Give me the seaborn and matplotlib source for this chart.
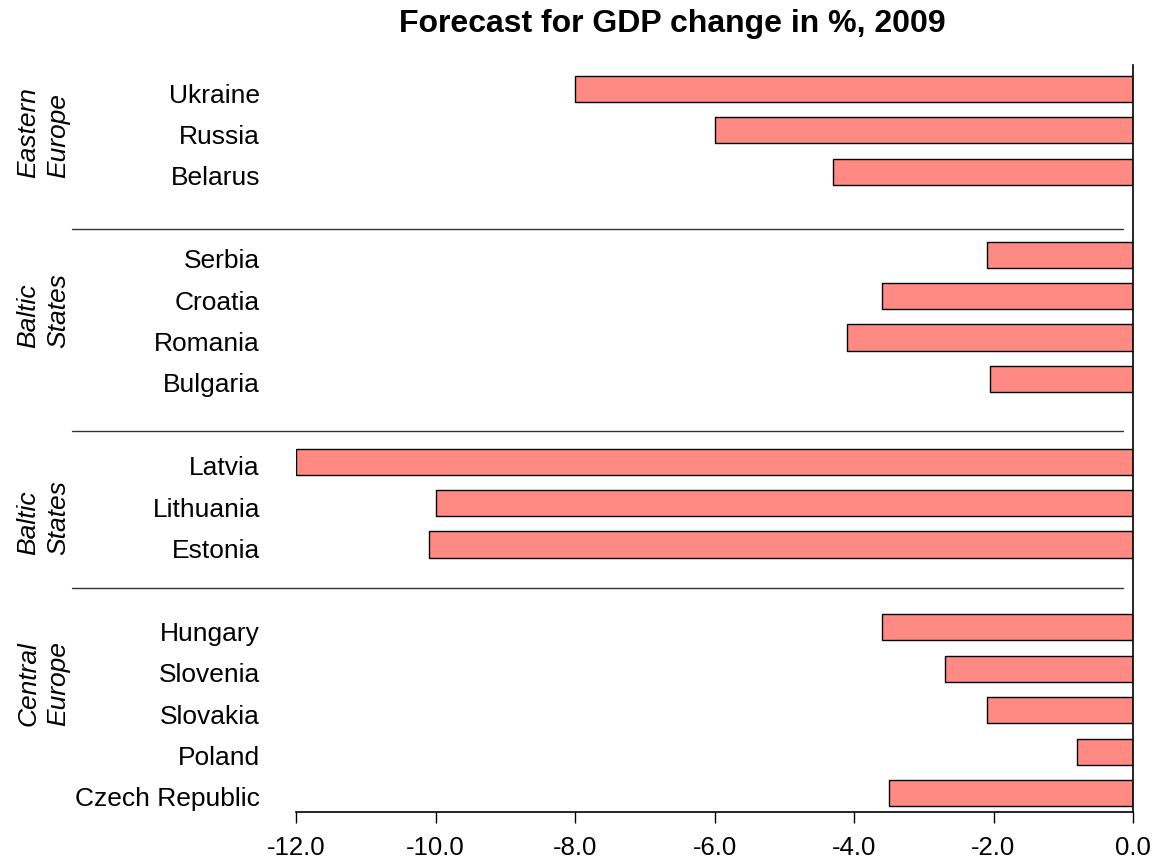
import matplotlib
matplotlib.use("Agg")
import matplotlib.pyplot as plt
import matplotlib.transforms as mtransforms
import seaborn as sns
import pandas as pd
from matplotlib.ticker import FormatStrFormatter

# ---- data ----
countries = ["Ukraine", "Russia", "Belarus",
             "Serbia", "Croatia", "Romania", "Bulgaria",
             "Latvia", "Lithuania", "Estonia",
             "Hungary", "Slovenia", "Slovakia", "Poland", "Czech Republic"]
gdp_change = [-8.0, -6.0, -4.3,
              -2.1, -3.6, -4.1, -2.05,
              -12.0, -10.0, -10.1,
              -3.6, -2.7, -2.1, -0.8, -3.5]
groups = ["Eastern\nEurope", "Baltic\nStates", "Baltic\nStates", "Central\nEurope"]
group_members = [3, 4, 3, 5]
x_ticks = [-12.0, -10.0, -8.0, -6.0, -4.0, -2.0, 0.0]
title = "Forecast for GDP change in %, 2009"

# ---- layout ----
sns.set_style("white")
plt.rcParams["font.family"] = ["Liberation Sans", "DejaVu Sans"]
for k in ["text.color", "axes.labelcolor", "xtick.color", "ytick.color"]:
    plt.rcParams[k] = "black"

W, H = 1157, 867
fig = plt.figure(figsize=(W / 100, H / 100), dpi=100)
ax = fig.add_axes([296 / W, 1 - 812 / H, (1133 - 296) / W, (812 - 65) / H])

# build category order with blank spacer slots between groups
order = []
idx = 0
for gi, n in enumerate(group_members):
    order.extend(countries[idx:idx + n])
    idx += n
    if gi < len(group_members) - 1:
        order.append(" " * (gi + 1))

df = pd.DataFrame({"country": countries, "value": gdp_change})
sns.barplot(data=df, x="value", y="country", order=order, orient="h",
            color="#FF8983", saturation=1, edgecolor="black", linewidth=1.0,
            width=0.63, ax=ax)

ax.set_xlim(-12, 0)
ax.set_ylim(17.46, -0.58)
ax.set_xticks(x_ticks)
ax.xaxis.set_major_formatter(FormatStrFormatter("%.1f"))
ax.set_xlabel("")
ax.set_ylabel("")

for s in ["left", "top"]:
    ax.spines[s].set_visible(False)
for s in ["right", "bottom"]:
    ax.spines[s].set_visible(True)
    ax.spines[s].set_color("black")
    ax.spines[s].set_linewidth(1.2)

ax.tick_params(axis="x", direction="out", length=8, width=1, color="black",
               labelsize=18.5, pad=9, bottom=True, labelcolor="black")
ax.tick_params(axis="y", length=0, labelsize=19, pad=26, labelcolor="black")
shift = mtransforms.ScaledTranslation(0, -4 / 100, fig.dpi_scale_trans)
for lbl in ax.get_yticklabels():
    lbl.set_horizontalalignment("right")
    lbl.set_transform(lbl.get_transform() + shift)

# group separators
ytr = ax.get_yaxis_transform()
x0 = (72 - 296) / (1133 - 296)
x1 = (1123 - 296) / (1133 - 296)
for ysep in [3.38, 8.26, 12.05]:
    ax.plot([x0, x1], [ysep, ysep], transform=ytr, clip_on=False,
            color="#333333", lw=1.0)

# group labels
xg = (43 - 296) / (1133 - 296)
for g, yc in zip(groups, [1.04, 5.34, 10.34, 14.35]):
    ax.text(xg, yc, g, transform=ytr, rotation=90, fontstyle="italic",
            fontsize=19, ha="center", va="center", multialignment="left",
            linespacing=1.3, color="black")

fig.text(672 / W, 1 - 24 / H, title, ha="center", va="center",
         fontsize=23, fontweight="bold", color="black")

fig.savefig("out.png", dpi=100)
